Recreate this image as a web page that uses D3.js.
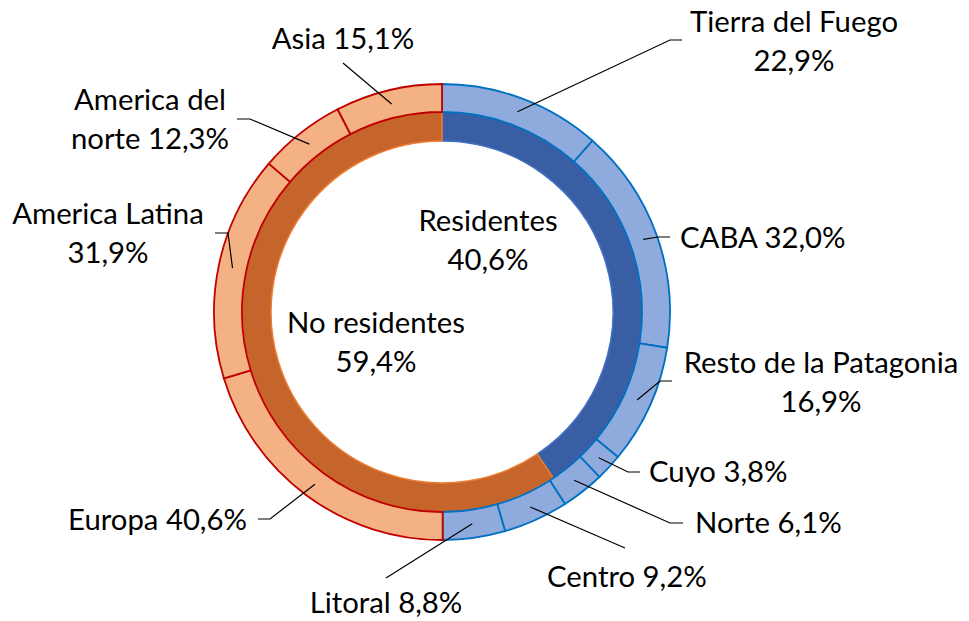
<!DOCTYPE html>
<html>
<head>
<meta charset="utf-8">
<script src="https://cdn.jsdelivr.net/npm/d3@7"></script>
<style>
  body { margin: 0; background: #fff; }
  svg text { font-family: Lato, "Open Sans", sans-serif; font-size: 29.3px; fill: #000; }
</style>
</head>
<body>
<div id="chart"></div>
<script>
// inner ring: residents vs non residents
var innerCats = ["Residentes", "No residentes"];
var innerVals = [40.6, 59.4];

// outer ring: origin of each group (percent of the group)
var outerCats = ["Tierra del Fuego", "CABA", "Resto de la Patagonia", "Cuyo", "Norte", "Centro", "Litoral",
                 "Europa", "America Latina", "America del norte", "Asia"];
var outerVals = [22.9, 32.0, 16.9, 3.8, 6.1, 9.2, 8.8,
                 40.6, 31.9, 12.3, 15.1];
var outerGroup = ["Residentes", "Residentes", "Residentes", "Residentes", "Residentes", "Residentes", "Residentes",
                  "No residentes", "No residentes", "No residentes", "No residentes"];

var width = 969, height = 621;
var cx = 442, cy = 312;
var rIn = 171, rMid = 200, rOut = 228;

var innerFill = { "Residentes": "#3A5EA3", "No residentes": "#C5652B" };
var innerStroke = { "Residentes": "#4472C4", "No residentes": "#ED7D31" };
var outerFill = { "Residentes": "#8FAADC", "No residentes": "#F4B183" };
var outerStroke = { "Residentes": "#0070C0", "No residentes": "#C00000" };

// label placement (text anchor point, leader elbow and end), same order as outerCats
var labelLayout = [
    { x: 794, y: 32, anchor: "middle", split: 3, elbow: [670, 40], end: [682, 40] },
    { x: 680, y: 248, anchor: "start", split: 0, elbow: [658, 237], end: [670, 237] },
    { x: 821, y: 373, anchor: "middle", split: 4, elbow: [660, 381], end: [672, 381] },
    { x: 649, y: 482, anchor: "start", split: 0, elbow: [628, 472], end: [640, 472] },
    { x: 695, y: 533, anchor: "start", split: 0, elbow: [670, 523], end: [683, 523] },
    { x: 547, y: 587, anchor: "start", split: 0, elbow: [625, 548], end: [625, 548] },
    { x: 386, y: 613, anchor: "middle", split: 0, elbow: [386, 578], end: [386, 578] },
    { x: 247, y: 530, anchor: "end", split: 0, elbow: [270, 519], end: [258, 519] },
    { x: 108, y: 224, anchor: "middle", split: 2, elbow: [228, 233], end: [215, 233] },
    { x: 150, y: 110, anchor: "middle", split: 2, elbow: [250, 119], end: [237, 119] },
    { x: 343, y: 49, anchor: "middle", split: 0, elbow: [343, 63], end: [343, 63] }
];
var innerLabelPos = [[488, 231], [376, 333]];
var lineGap = 39;

var locale = d3.formatLocale({ decimal: ",", thousands: ".", grouping: [3] });
var fmt = locale.format(".1f");
var pct = function(v) { return fmt(v) + "%"; };

var svg = d3.select("#chart")
    .append("svg")
    .attr("width", width)
    .attr("height", height);

var g = svg.append("g")
    .attr("transform", "translate(" + cx + "," + cy + ")");

var pie = d3.pie().sort(null).value(d => d.value);

var innerData = pie(innerCats.map((c, i) => ({ name: c, value: innerVals[i] })));
var outerData = pie(outerCats.map((c, i) => ({ name: c, value: outerVals[i], group: outerGroup[i] })));

var innerArc = d3.arc().innerRadius(rIn).outerRadius(rMid);
var outerArc = d3.arc().innerRadius(rMid).outerRadius(rOut);

g.selectAll("path.inner")
    .data(innerData)
    .enter()
    .append("path")
    .attr("class", "inner")
    .attr("d", innerArc)
    .style("fill", d => innerFill[d.data.name])
    .style("stroke", d => innerStroke[d.data.name])
    .style("stroke-width", 1.5);

g.selectAll("path.outer")
    .data(outerData)
    .enter()
    .append("path")
    .attr("class", "outer")
    .attr("d", outerArc)
    .style("fill", d => outerFill[d.data.group])
    .style("stroke", d => outerStroke[d.data.group])
    .style("stroke-width", 1.8);

// leader lines, from the centroid of each outer slice
var leader = d3.line();
svg.selectAll("path.leader")
    .data(outerData)
    .enter()
    .append("path")
    .attr("class", "leader")
    .attr("d", function(d, i) {
        var c = outerArc.centroid(d);
        var L = labelLayout[i];
        return leader([[cx + c[0], cy + c[1]], L.elbow, L.end]);
    })
    .style("fill", "none")
    .style("stroke", "#000")
    .style("stroke-width", 1.2);

// outer labels
svg.selectAll("text.outer-label")
    .data(outerData)
    .enter()
    .append("text")
    .attr("class", "outer-label")
    .attr("text-anchor", (d, i) => labelLayout[i].anchor)
    .each(function(d, i) {
        var L = labelLayout[i];
        var words = d.data.name.split(" ");
        var lines;
        if (L.split > 0) {
            var rest = words.slice(L.split);
            lines = [words.slice(0, L.split).join(" "), rest.concat([pct(d.data.value)]).join(" ")];
        } else {
            lines = [d.data.name + " " + pct(d.data.value)];
        }
        d3.select(this).selectAll("tspan")
            .data(lines)
            .enter()
            .append("tspan")
            .attr("x", L.x)
            .attr("y", (t, j) => L.y + j * lineGap)
            .text(t => t);
    });

// inner labels
svg.selectAll("text.inner-label")
    .data(innerData)
    .enter()
    .append("text")
    .attr("class", "inner-label")
    .attr("text-anchor", "middle")
    .each(function(d, i) {
        var p = innerLabelPos[i];
        d3.select(this).selectAll("tspan")
            .data([d.data.name, pct(d.data.value)])
            .enter()
            .append("tspan")
            .attr("x", p[0])
            .attr("y", (t, j) => p[1] + j * lineGap)
            .text(t => t);
    });
</script>
</body>
</html>
